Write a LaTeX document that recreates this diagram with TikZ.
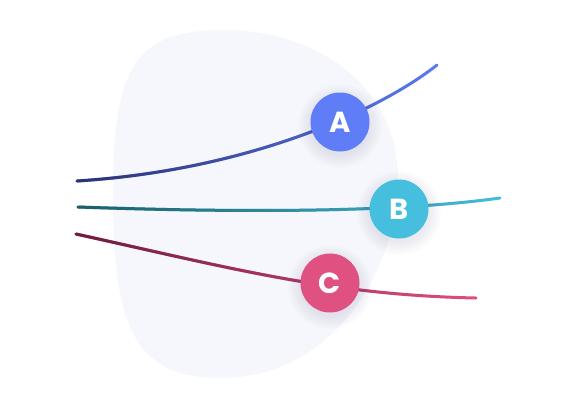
\documentclass[tikz,border=0pt]{standalone}
\usepackage{fontspec}
\newfontfamily\ballfont{Poppins}
\usetikzlibrary{fadings}
\definecolor{blobgray}{HTML}{F6F7FC}
\definecolor{ballA}{HTML}{5E7DF6}
\definecolor{ballB}{HTML}{45BFDD}
\definecolor{ballC}{HTML}{DF5181}
\definecolor{wireAlo}{HTML}{2C3272}
\definecolor{wireAhi}{HTML}{5C7BF0}
\definecolor{wireBlo}{HTML}{1F5C66}
\definecolor{wireBhi}{HTML}{44BEDB}
\definecolor{wireClo}{HTML}{6B1D40}
\definecolor{wireChi}{HTML}{E04F80}
\tikzfading[name=fade right, left color=transparent!0, right color=transparent!100]
\tikzset{
  ball/.style={circle, minimum size=59pt, inner sep=0pt, text=white,
    font=\ballfont\bfseries\fontsize{29}{29}\selectfont},
  halo/.style={fill=black!70!blue, opacity=.013},
  wire/.style={line width=3pt, line cap=round},
}

\begin{document}
\begin{tikzpicture}[x=1pt,y=-1pt]
\useasboundingbox (0,0) rectangle (580,400);

% background blob
\fill[blobgray] (113,190) .. controls (113,60) and (140,30) .. (225,30)
  .. controls (310,30) and (398,80) .. (398,180)
  .. controls (398,260) and (340,378) .. (220,378)
  .. controls (130,378) and (113,320) .. (113,190) -- cycle;

% wire ends and control points
\coordinate (a0) at (77,181);  \coordinate (a1) at (250,170);
\coordinate (a2) at (380,110); \coordinate (a3) at (437,65);
\coordinate (b0) at (78,207);  \coordinate (b1) at (250,213);
\coordinate (b2) at (400,212); \coordinate (b3) at (500,198);
\coordinate (c0) at (76,234);  \coordinate (c1) at (230,268);
\coordinate (c2) at (330,295); \coordinate (c3) at (476,298);

\foreach \n/\lo/\hi in {a/wireAlo/wireAhi, b/wireBlo/wireBhi, c/wireClo/wireChi} {
  \draw[wire, \hi] (\n0) .. controls (\n1) and (\n2) .. (\n3);
  \draw[wire, \lo, path fading=fade right] (\n0) .. controls (\n1) and (\n2) .. (\n3);
};

% ball centres and soft shadows
\coordinate (pA) at (340,122);
\coordinate (pB) at (399,209);
\coordinate (pC) at (330,283);
\foreach \p in {pA,pB,pC}
  \foreach \r in {30,32,...,42}
    \fill[halo] (\p) ++(0,4) circle[radius=\r pt];

\node[ball, fill=ballA] (A) at (pA) {A};
\node[ball, fill=ballB] (B) at (pB) {B};
\node[ball, fill=ballC] (C) at (pC) {C};
\end{tikzpicture}
\end{document}
